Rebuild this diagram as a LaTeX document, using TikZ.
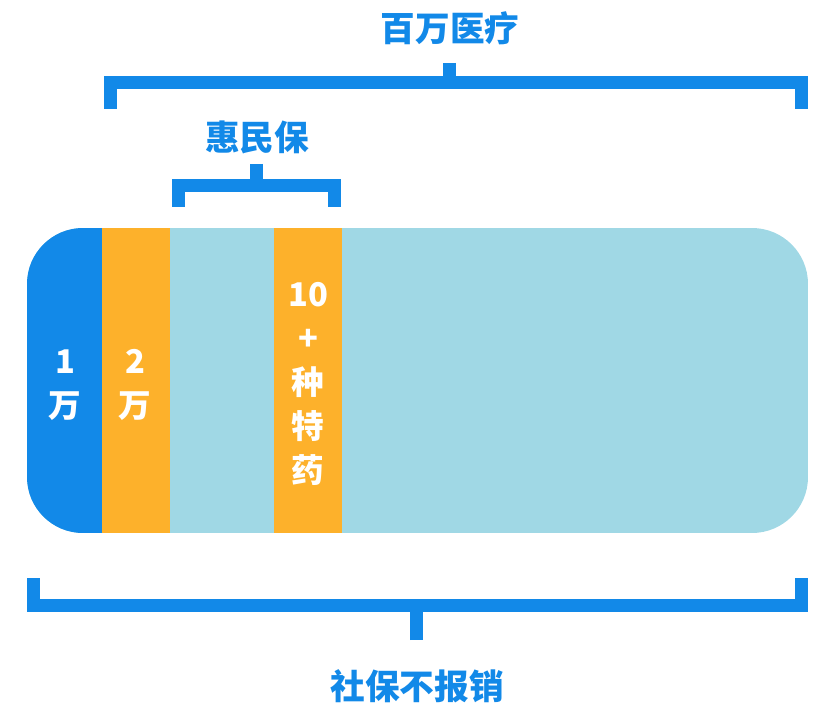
\documentclass[tikz,border=0pt]{standalone}
\usepackage{fontspec}
\setmainfont{Noto Sans CJK SC}
\usepackage{tikz}
\definecolor{barblue}{RGB}{18,137,232}
\definecolor{capgold}{RGB}{253,177,43}
\definecolor{skyfill}{RGB}{160,216,229}
\tikzset{bracket/.style={draw=barblue,line width=9.75pt,line join=miter,line cap=butt}}

\begin{document}
\begin{tikzpicture}[x=0.75pt,y=-0.75pt,
    lbl/.style={text=barblue,font=\fontsize{26}{33}\selectfont\bfseries,inner sep=0pt},
    cell/.style={text=white,align=center,font=\fontsize{24.5}{33}\selectfont\bfseries,inner sep=0pt}]
  \useasboundingbox (0,0) rectangle (834,723);
  \def\xl{27} \def\xr{808}
  \def\yt{228} \def\yb{533}

  % the bar itself
  \begin{scope}
    \clip[rounded corners=42pt] (\xl,\yt) rectangle (\xr,\yb);
    \fill[skyfill] (\xl,\yt) rectangle (\xr,\yb);
    \fill[barblue] (\xl,\yt) rectangle (102,\yb);
    \fill[capgold] (102,\yt) rectangle (170,\yb);
    \fill[capgold] (274,\yt) rectangle (342,\yb);
  \end{scope}

  \node[cell] (base) at (65,385) {1\\万};
  \node[cell] (hmb) at (135,385) {2\\万};
  \node[cell] (drug) at (308,384) {10\\+\\种\\特\\药};

  % top bracket
  \node[lbl] (mill) at (450,28) {百万医疗};
  \coordinate (millL) at (110,109);
  \coordinate (millR) at (801,109);
  \coordinate (millT) at (449.5,63);
  \draw[bracket] (millL) |- (millR|-0,82.5) -- (millR);
  \draw[bracket] (millT) -- (millT|-0,82.5);

  % small bracket
  \node[lbl] (hui) at (257,137) {惠民保};
  \coordinate (huiL) at (178.5,207);
  \coordinate (huiR) at (334,207);
  \coordinate (huiT) at (256,164);
  \draw[bracket] (huiL) |- (huiR|-0,186) -- (huiR);
  \draw[bracket] (huiT) -- (huiT|-0,186);

  % bottom bracket
  \node[lbl] (none) at (417,686) {社保不报销};
  \coordinate (noneL) at (33,578);
  \coordinate (noneR) at (801,578);
  \coordinate (noneB) at (416.5,640);
  \draw[bracket] (noneL) |- (noneR|-0,605.5) -- (noneR);
  \draw[bracket] (noneB) -- (noneB|-0,605.5);
\end{tikzpicture}
\end{document}
